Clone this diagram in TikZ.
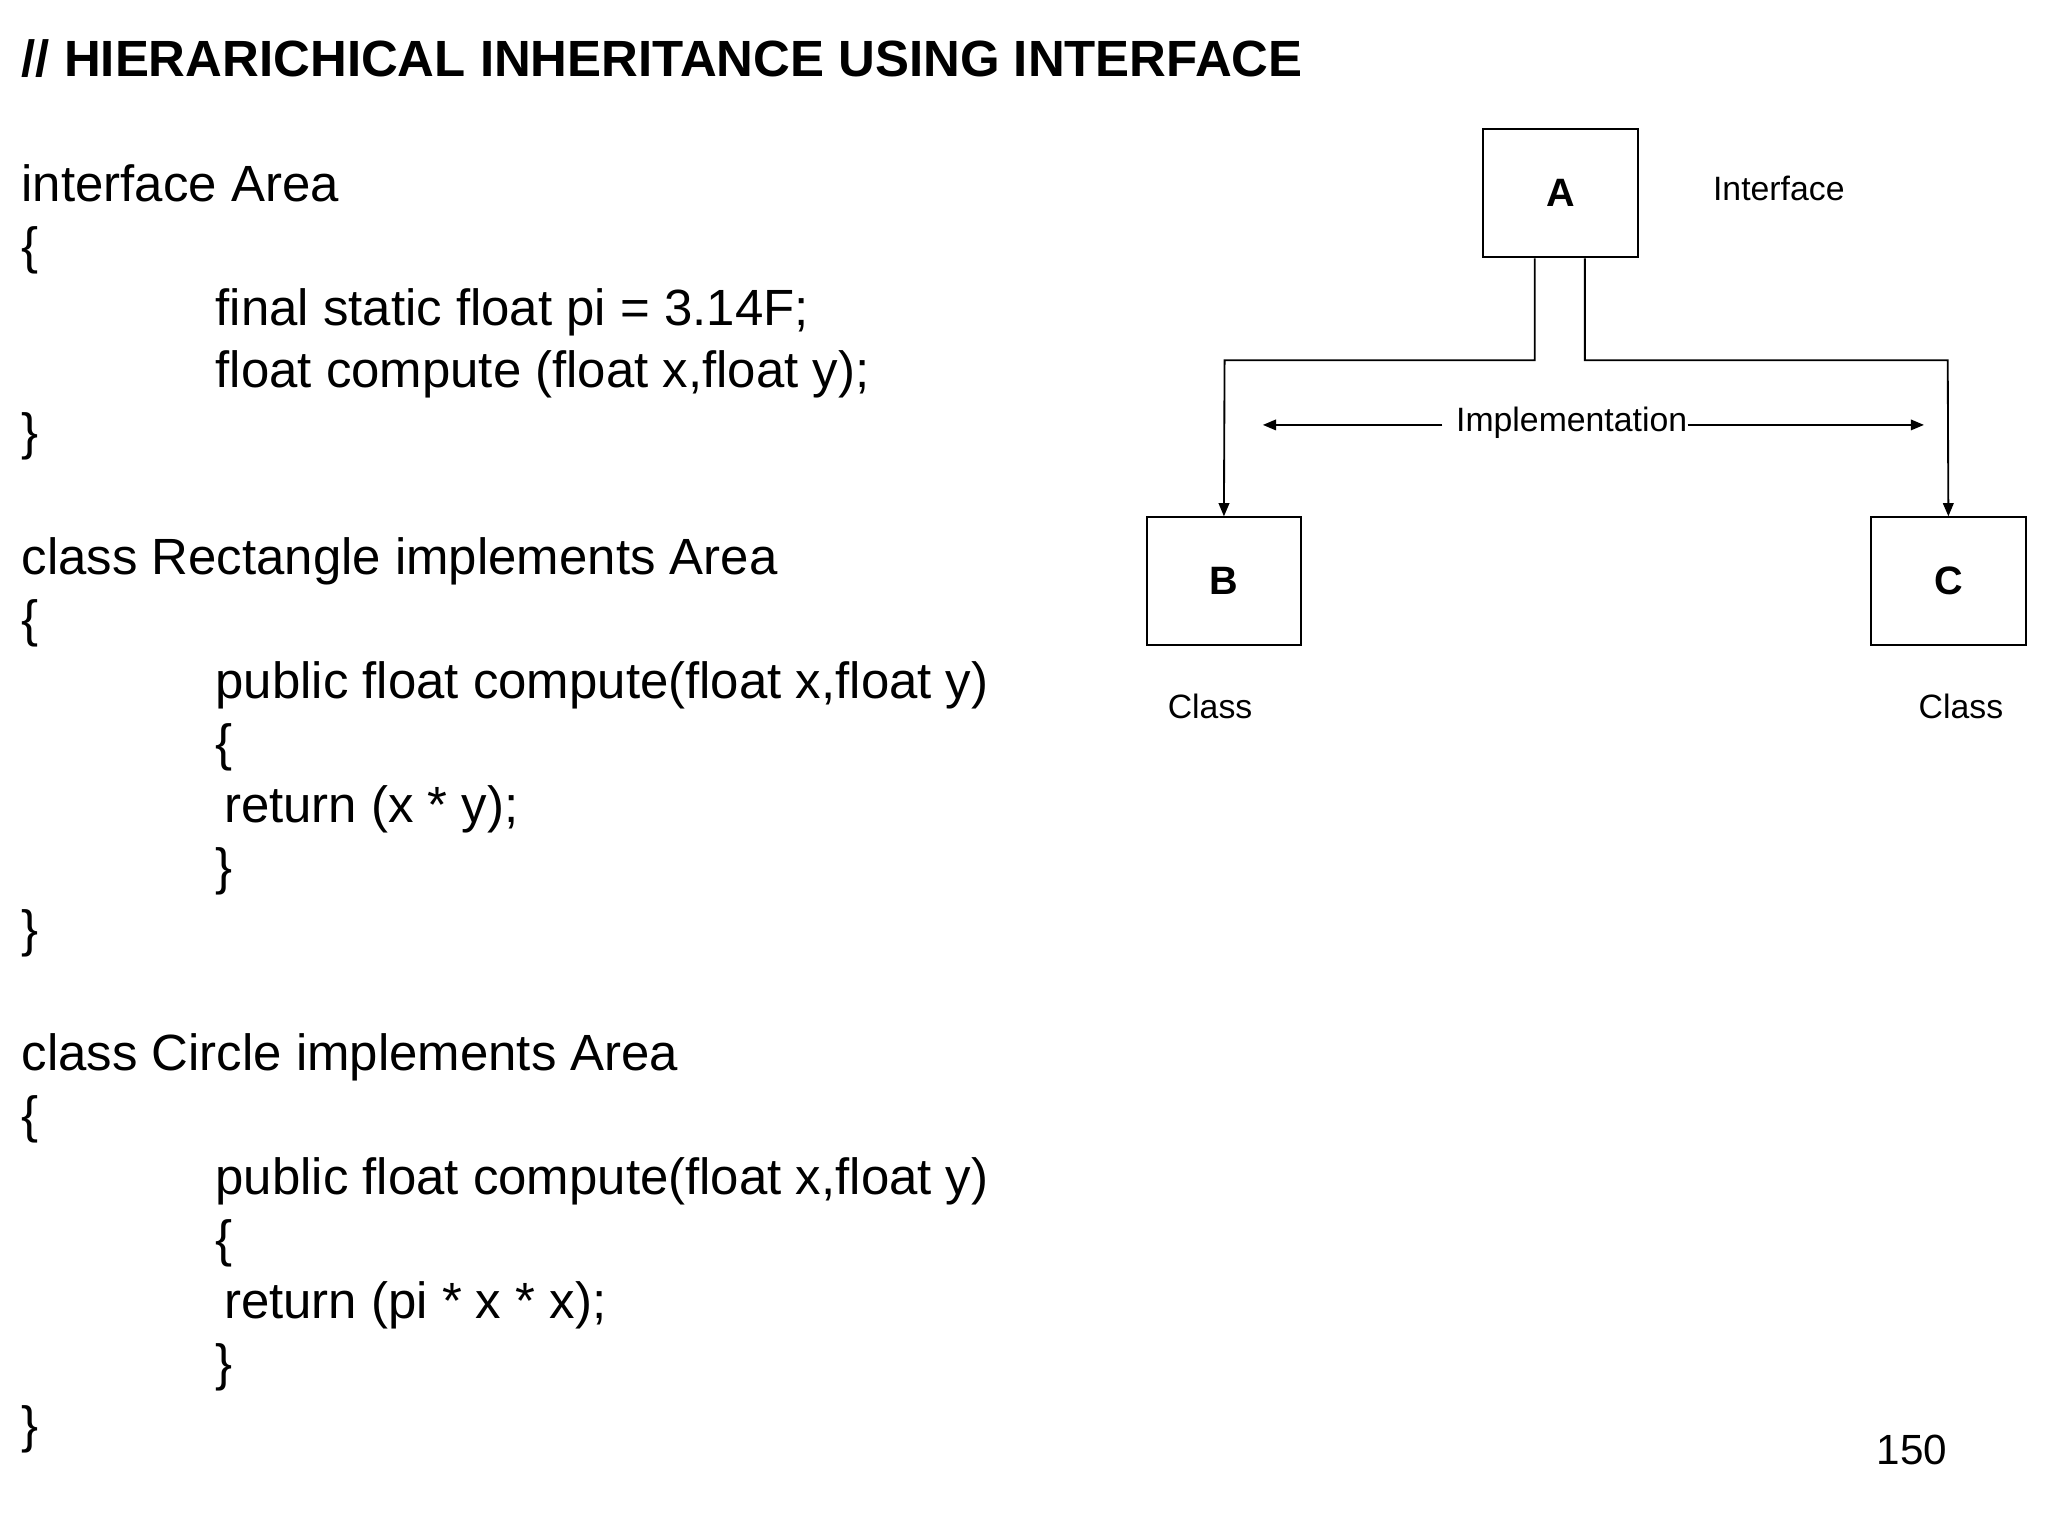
\documentclass[tikz,border=0pt]{standalone}
\usepackage{fontspec}
\setmainfont{Liberation Sans}
\usetikzlibrary{arrows.meta}
\begin{document}
\begin{tikzpicture}[x=0.5pt,y=-0.5pt,
  code/.style={anchor=base west,inner sep=0pt,font=\fontsize{19.3}{21}\selectfont},
  box/.style={draw,line width=0.7pt,minimum width=58.5pt,minimum height=48.5pt,inner sep=0pt,font=\fontsize{15}{17}\selectfont\bfseries},
  lbl/.style={inner sep=0pt,font=\fontsize{12.8}{15}\selectfont},
  conn/.style={line width=0.7pt,-{Triangle[length=5pt,width=4pt]}}]
\useasboundingbox (0,0) rectangle (1552,1164);
\node[anchor=base west,inner sep=0pt,font=\fontsize{19.3}{21}\selectfont\bfseries] (title) at (16,58) {// HIERARICHICAL INHERITANCE USING INTERFACE};
\node[code] (l1) at (16,153) {interface Area};
\node[code] (l2) at (16,200) {\{};
\node[code] (l3) at (163,247) {final static float pi = 3.14F;};
\node[code] (l4) at (163,294) {float compute (float x,float y);};
\node[code] (l5) at (16,341) {\}};
\node[code] (l6) at (16,435) {class Rectangle implements Area};
\node[code] (l7) at (16,482) {\{};
\node[code] (l8) at (163,529) {public float compute(float x,float y)};
\node[code] (l9) at (163,576) {\{};
\node[code] (l10) at (163,623) {\,return (x * y);};
\node[code] (l11) at (163,670) {\}};
\node[code] (l12) at (16,717) {\}};
\node[code] (l13) at (16,811) {class Circle implements Area};
\node[code] (l14) at (16,858) {\{};
\node[code] (l15) at (163,905) {public float compute(float x,float y)};
\node[code] (l16) at (163,952) {\{};
\node[code] (l17) at (163,999) {\,return (pi * x * x);};
\node[code] (l18) at (163,1046) {\}};
\node[code] (l19) at (16,1093) {\}};
\node[lbl,font=\fontsize{16}{18}\selectfont] (pg) at (1449,1099) {150};
\node[box] (A) at (1182.5,146.5) {A};
\node[box] (B) at (927.5,440.5) {B};
\node[box] (C) at (1476.5,440.5) {C};
\node[lbl] (int) at (1348,143) {Interface};
\node[lbl] (cb) at (917,535) {Class};
\node[lbl] (cc) at (1486,535) {Class};
\node[lbl] (impl) at (1191,320) {Implementation};
\draw[conn] (A.south -| 1163,0) |- (928,273) -- (B.north);
\draw[conn] (A.south -| 1201,0) |- (1476,273) -- (C.north);
\coordinate (il) at (957,322);
\coordinate (ir) at (1458,322);
\draw[conn] (impl.west) ++(-10,2) -- (il);
\draw[conn] (impl.east) ++(0,2) -- (ir);
\end{tikzpicture}
\end{document}
